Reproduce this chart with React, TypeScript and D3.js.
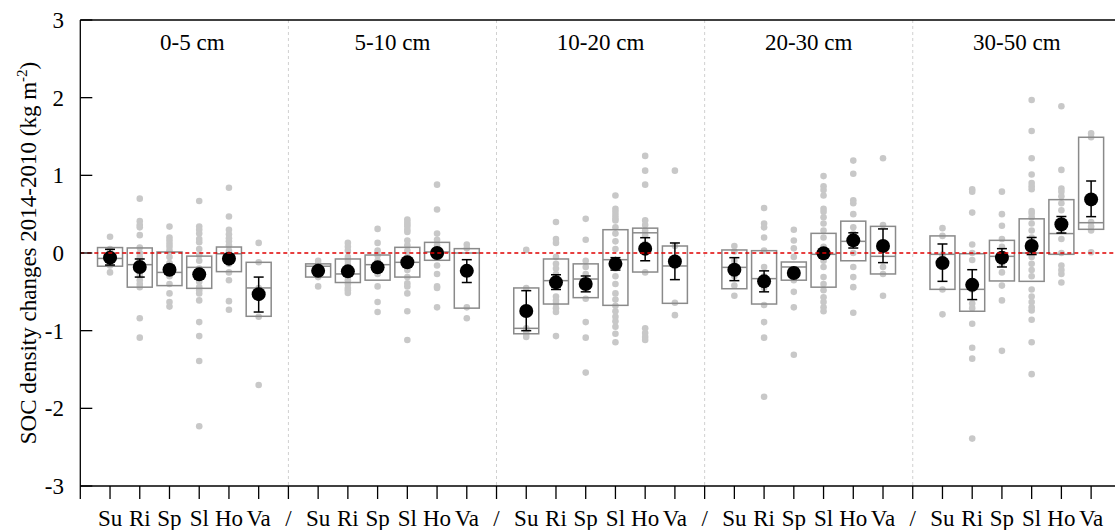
import React from "react";
import * as d3 from "d3";

const depthLabels = ["0-5 cm", "5-10 cm", "10-20 cm", "20-30 cm", "30-50 cm"];
const landUses = ["Su", "Ri", "Sp", "Sl", "Ho", "Va"];
const separatorLabel = "/";
const yTicks = [-3, -2, -1, 0, 1, 2, 3];

// Box statistics per depth (rows) and land use (columns)
const boxQ3 = [
  [0.07, 0.065, 0.013, -0.04, 0.077, -0.12],
  [-0.14, -0.077, -0.026, 0.073, 0.137, 0.056],
  [-0.45, -0.077, -0.14, 0.3, 0.32, 0.09],
  [0.039, 0.03, -0.116, 0.253, 0.41, 0.343],
  [0.22, -0.009, 0.163, 0.44, 0.687, 1.49],
];
const boxMedian = [
  [-0.07, -0.15, -0.25, -0.185, -0.01, -0.45],
  [-0.17, -0.27, -0.15, -0.12, 0.013, 0.0],
  [-0.97, -0.356, -0.335, -0.086, 0.26, -0.167],
  [-0.185, -0.33, -0.18, -0.017, 0.15, -0.043],
  [-0.017, -0.468, -0.043, 0.0, 0.25, 0.39],
];
const boxQ1 = [
  [-0.17, -0.44, -0.42, -0.455, -0.24, -0.815],
  [-0.31, -0.38, -0.35, -0.31, -0.094, -0.71],
  [-1.04, -0.657, -0.575, -0.674, -0.245, -0.648],
  [-0.46, -0.657, -0.35, -0.44, -0.1, -0.27],
  [-0.468, -0.75, -0.36, -0.365, -0.017, 0.305],
];
const meanValues = [
  [-0.06, -0.18, -0.215, -0.275, -0.073, -0.53],
  [-0.23, -0.236, -0.185, -0.12, 0.0, -0.23],
  [-0.747, -0.378, -0.4, -0.14, 0.056, -0.11],
  [-0.215, -0.365, -0.258, -0.004, 0.163, 0.09],
  [-0.13, -0.41, -0.06, 0.09, 0.37, 0.69],
];
const errLow = [
  [-0.155, -0.31, -0.27, -0.33, -0.12, -0.76],
  [-0.27, -0.28, -0.23, -0.16, -0.05, -0.38],
  [-1.0, -0.47, -0.5, -0.22, -0.1, -0.343],
  [-0.356, -0.5, -0.31, -0.05, 0.064, -0.124],
  [-0.365, -0.6, -0.18, -0.02, 0.257, 0.468],
];
const errHigh = [
  [0.047, -0.077, -0.16, -0.22, -0.03, -0.31],
  [-0.19, -0.19, -0.14, -0.08, 0.05, -0.086],
  [-0.485, -0.28, -0.296, -0.06, 0.197, 0.129],
  [-0.06, -0.23, -0.2, 0.04, 0.26, 0.31],
  [0.116, -0.215, 0.056, 0.2, 0.47, 0.927],
];

// Raw observations (grey dots)
const points0to5 = [
  [0.21, 0.05, -0.02, -0.08, -0.12, -0.16, -0.25],
  [0.7, 0.41, 0.36, 0.33, 0.23, 0.07, 0.0, -0.05, -0.1, -0.15, -0.2, -0.25, -0.3, -0.35, -0.4, -0.44, -0.84, -1.09],
  [0.34, 0.2, 0.16, 0.12, 0.08, 0.03, -0.05, -0.13, -0.2, -0.3, -0.4, -0.52, -0.63, -0.69],
  [0.67, 0.34, 0.3, 0.25, 0.18, 0.14, 0.05, -0.03, -0.1, -0.2, -0.3, -0.37, -0.44, -0.48, -0.52, -0.61, -0.89, -1.07, -1.39, -2.23],
  [0.84, 0.47, 0.3, 0.24, 0.19, 0.15, 0.1, 0.03, -0.05, -0.14, -0.25, -0.35, -0.62, -0.73],
  [0.13, -0.12, -0.45, -0.82, -1.7],
];
const points5to10 = [
  [-0.1, -0.14, -0.17, -0.22, -0.27, -0.31, -0.43],
  [0.13, 0.08, 0.03, -0.05, -0.1, -0.15, -0.2, -0.25, -0.3, -0.35, -0.4, -0.45, -0.48, -0.515],
  [0.31, 0.13, 0.03, -0.03, -0.1, -0.27, -0.43, -0.63, -0.76],
  [0.43, 0.4, 0.37, 0.34, 0.3, 0.27, 0.16, 0.1, 0.03, -0.05, -0.14, -0.22, -0.31, -0.39, -0.43, -0.52, -0.75, -1.12],
  [0.88, 0.56, 0.25, 0.17, 0.1, -0.05, -0.16, -0.27, -0.43, -0.45, -0.7],
  [0.11, 0.06, -0.7, -0.84],
];
const points10to20 = [
  [0.04, -0.45, -0.97, -1.0, -1.04, -1.08],
  [0.4, 0.18, 0.13, -0.05, -0.14, -0.2, -0.27, -0.56, -0.61, -0.65, -0.71, -0.76, -1.07],
  [0.44, 0.17, -0.1, -0.18, -0.27, -0.59, -0.89, -1.09, -1.54],
  [0.74, 0.57, 0.53, 0.49, 0.45, 0.42, 0.33, 0.25, 0.15, 0.05, -0.14, -0.2, -0.3, -0.4, -0.52, -0.6, -0.68, -0.75, -0.82, -0.88, -0.95, -1.04, -1.15],
  [1.25, 1.06, 0.88, 0.42, 0.36, 0.29, 0.23, 0.12, -0.25, -0.97, -1.03, -1.08, -1.12],
  [1.06, 0.09, -0.17, -0.64, -0.8],
];
const points20to30 = [
  [0.09, 0.02, -0.1, -0.19, -0.3, -0.42, -0.55],
  [0.58, 0.38, 0.33, 0.2, 0.03, -0.18, -0.3, -0.45, -0.67, -0.89, -1.09, -1.85],
  [0.3, 0.16, 0.06, -0.05, -0.35, -0.5, -0.7, -1.31],
  [0.99, 0.86, 0.81, 0.74, 0.57, 0.53, 0.46, 0.38, 0.29, 0.2, 0.08, -0.1, -0.18, -0.31, -0.4, -0.48, -0.57, -0.63, -0.7, -0.75],
  [1.19, 1.02, 0.68, 0.64, 0.5, 0.33, 0.25, 0.14, 0.0, -0.18, -0.31, -0.44, -0.77],
  [1.22, 0.36, -0.18, -0.27, -0.55],
];
const points30to50 = [
  [0.32, 0.22, -0.02, -0.47, -0.79],
  [0.82, 0.79, 0.52, 0.11, 0.0, -0.09, -0.47, -0.65, -0.71, -0.91, -1.22, -1.36, -2.39],
  [0.79, 0.5, 0.35, 0.18, 0.08, -0.14, -0.25, -0.42, -0.61, -1.26],
  [1.97, 1.57, 1.22, 1.01, 0.9, 0.86, 0.82, 0.54, 0.51, 0.46, 0.38, 0.29, 0.2, 0.12, -0.05, -0.14, -0.22, -0.3, -0.47, -0.56, -0.63, -0.7, -0.74, -0.86, -1.15, -1.56],
  [1.89, 1.07, 0.83, 0.79, 0.73, 0.64, 0.55, 0.38, 0.29, 0.18, 0.0, -0.16, -0.22, -0.27, -0.38],
  [1.54, 1.49, 0.4, 0.34, 0.29, 0.01],
];
const rawPoints = [points0to5, points5to10, points10to20, points20to30, points30to50];

const W = 1115;
const H = 530;
const FONT = "Liberation Serif";
const titleShift = [8, 0, 0, 0, 0];

export default function App() {
  const perGroup = landUses.length + 1;
  const nSlots = depthLabels.length * perGroup;
  const x = d3.scaleLinear().domain([0, nSlots]).range([80.3, 80.3 + 29.73 * nSlots]);
  const y = d3.scaleLinear().domain([-3, 3]).range([486, 20]);
  const slot = (g: number, j: number) => g * perGroup + j + 1;
  const tickIdx = d3.range(0, nSlots);
  const tickLabel = (i: number) => {
    if (i === 0) return "";
    const r = i % perGroup;
    return r === 0 ? separatorLabel : landUses[r - 1];
  };
  const boxHalf = 12.5;
  const capHalf = 5;
  const gray = "#c8c8c8";
  const txt = { fontFamily: FONT, fontSize: "23px" } as React.CSSProperties;

  return (
    <svg width={W} height={H} style={{ position: "absolute", left: 0, top: 0, background: "#fff" }}>
      {/* separators */}
      {d3.range(1, depthLabels.length).map((g) => (
        <line key={"sep" + g} x1={x(g * perGroup)} x2={x(g * perGroup)} y1={y(3)} y2={y(-3)} stroke="#d0d0d0" strokeWidth={1} strokeDasharray="3,3" />
      ))}
      {/* raw points */}
      {rawPoints.map((grp, g) =>
        grp.map((vals, j) =>
          vals.map((v, k) => (
            <circle key={`p${g}-${j}-${k}`} cx={x(slot(g, j))} cy={y(v)} r={3.3} fill={gray} />
          ))
        )
      )}
      {/* boxes */}
      {depthLabels.map((_, g) =>
        landUses.map((__, j) => {
          const cx = x(slot(g, j));
          return (
            <g key={`b${g}-${j}`} stroke="#8a8a8a" strokeWidth={1.5} fill="none">
              <rect x={cx - boxHalf} y={y(boxQ3[g][j])} width={boxHalf * 2} height={y(boxQ1[g][j]) - y(boxQ3[g][j])} />
              <line x1={cx - boxHalf} x2={cx + boxHalf} y1={y(boxMedian[g][j])} y2={y(boxMedian[g][j])} />
            </g>
          );
        })
      )}
      {/* error bars and means */}
      {depthLabels.map((_, g) =>
        landUses.map((__, j) => {
          const cx = x(slot(g, j));
          const lo = y(errLow[g][j]);
          const hi = y(errHigh[g][j]);
          return (
            <g key={`m${g}-${j}`}>
              <g stroke="#000" strokeWidth={1.5}>
                <line x1={cx} x2={cx} y1={lo} y2={hi} />
                <line x1={cx - capHalf} x2={cx + capHalf} y1={lo} y2={lo} />
                <line x1={cx - capHalf} x2={cx + capHalf} y1={hi} y2={hi} />
              </g>
              <circle cx={cx} cy={y(meanValues[g][j])} r={7} fill="#000" />
            </g>
          );
        })
      )}
      {/* zero line */}
      <line x1={x(0)} x2={W} y1={y(0)} y2={y(0)} stroke="#e00000" strokeWidth={1.6} strokeDasharray="4,3" />
      {/* frame */}
      <line x1={x(0)} x2={W} y1={y(3)} y2={y(3)} stroke="#000" strokeWidth={1.3} />
      <line x1={x(0)} x2={W} y1={y(-3)} y2={y(-3)} stroke="#000" strokeWidth={1.3} />
      <line x1={x(0)} x2={x(0)} y1={y(3)} y2={y(-3)} stroke="#000" strokeWidth={1.3} />
      {/* y ticks */}
      {yTicks.map((t) => (
        <g key={"yt" + t}>
          <line x1={x(0)} x2={x(0) + 12} y1={y(t)} y2={y(t)} stroke="#000" strokeWidth={1.3} />
          <text x={64} y={y(t)} dy="0.35em" textAnchor="end" style={txt}>{t}</text>
        </g>
      ))}
      {/* x ticks */}
      {tickIdx.map((i) => (
        <g key={"xt" + i}>
          <line x1={x(i)} x2={x(i)} y1={y(-3)} y2={y(-3) + 13} stroke="#000" strokeWidth={1.3} />
          <text x={x(i)} y={526} textAnchor="middle" style={txt}>{tickLabel(i)}</text>
        </g>
      ))}
      {/* panel titles */}
      {depthLabels.map((d, g) => (
        <text key={"t" + g} x={x(g * perGroup + 3.5) + titleShift[g]} y={50} textAnchor="middle" style={txt}>{d}</text>
      ))}
      {/* y label */}
      <text transform={`translate(36,253) rotate(-90)`} textAnchor="middle" style={txt}>
        SOC density changes 2014-2010 (kg m<tspan dy={-9} style={{ fontSize: "15px" }}>-2</tspan><tspan dy={9}>)</tspan>
      </text>
    </svg>
  );
}
